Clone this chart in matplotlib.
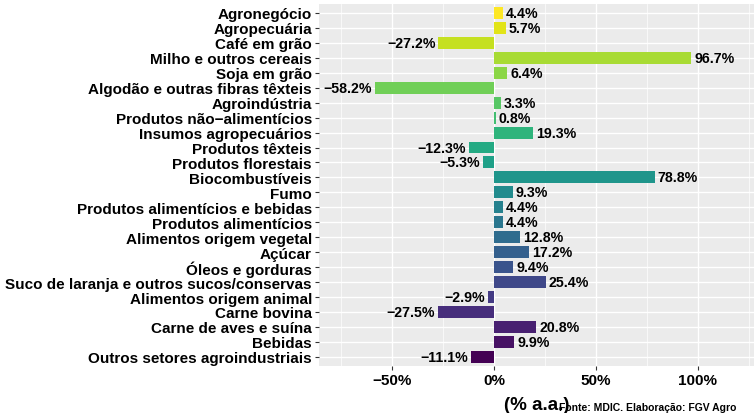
import matplotlib
matplotlib.use("Agg")
import matplotlib.pyplot as plt
import numpy as np

categories = [
    "Agronegócio",
    "Agropecuária",
    "Café em grão",
    "Milho e outros cereais",
    "Soja em grão",
    "Algodão e outras fibras têxteis",
    "Agroindústria",
    "Produtos não\u2212alimentícios",
    "Insumos agropecuários",
    "Produtos têxteis",
    "Produtos florestais",
    "Biocombustíveis",
    "Fumo",
    "Produtos alimentícios e bebidas",
    "Produtos alimentícios",
    "Alimentos origem vegetal",
    "Açúcar",
    "Óleos e gorduras",
    "Suco de laranja e outros sucos/conservas",
    "Alimentos origem animal",
    "Carne bovina",
    "Carne de aves e suína",
    "Bebidas",
    "Outros setores agroindustriais",
]
growth = [4.4, 5.7, -27.2, 96.7, 6.4, -58.2, 3.3, 0.8, 19.3, -12.3, -5.3, 78.8,
          9.3, 4.4, 4.4, 12.8, 17.2, 9.4, 25.4, -2.9, -27.5, 20.8, 9.9, -11.1]
x_ticks = [-50, 0, 50, 100]
x_ticklabels = ["\u221250%", "0%", "50%", "100%"]

plt.rcParams["font.family"] = ["Liberation Sans", "DejaVu Sans"]
plt.rcParams["font.weight"] = "bold"

fig = plt.figure(figsize=(7.54, 4.14), dpi=100)
ax = fig.add_axes([0.423, 0.114, 0.577, 0.874])
ax.set_facecolor("#EBEBEB")

n = len(categories)
y = np.arange(n)
colors = plt.cm.viridis(np.linspace(1, 0, n))
ax.barh(y, growth, height=0.8, color=colors, zorder=3)

for yi, v in zip(y, growth):
    txt = f"{v:.1f}%".replace("-", "\u2212")
    if v >= 0:
        ax.text(v + 1.5, yi, txt, ha="left", va="center", fontsize=10.2,
                fontweight="bold", zorder=4)
    else:
        ax.text(v - 1.5, yi, txt, ha="right", va="center", fontsize=10.2,
                fontweight="bold", zorder=4)

ax.set_xlim(-85.8, 127.5)
ax.set_ylim(n - 0.4, -0.6)
ax.set_yticks(y)
ax.set_yticklabels(categories, fontsize=11, fontweight="bold")
ax.set_xticks(x_ticks)
ax.set_xticklabels(x_ticklabels, fontsize=11, fontweight="bold")
ax.set_xticks([-75, -25, 25, 75, 125], minor=True)
ax.tick_params(axis="both", length=3, color="#333333", pad=2)
ax.tick_params(axis="x", which="minor", length=0)
ax.grid(True, which="major", color="white", lw=1.0, zorder=0)
ax.grid(True, which="minor", axis="x", color="white", lw=0.5, zorder=0)
for s in ax.spines.values():
    s.set_visible(False)

ax.set_xlabel("(% a.a.)", fontsize=13.5, fontweight="bold", labelpad=7)
fig.text(0.742, 0.002, "Fonte: MDIC. Elaboração: FGV Agro", fontsize=7.5,
         fontweight="bold", ha="left", va="bottom")

fig.savefig("out.png", dpi=100)
